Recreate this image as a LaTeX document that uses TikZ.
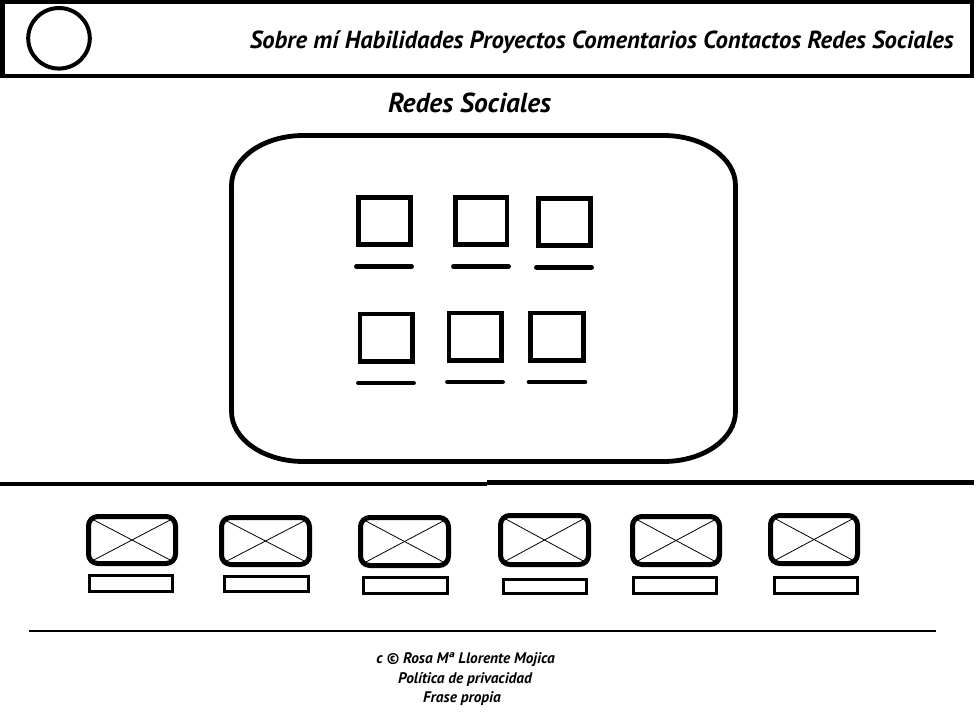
\documentclass[tikz,border=0pt]{standalone}
\usepackage{fontspec}
\setmainfont{PT Sans}
\begin{document}
\begin{tikzpicture}[x=0.75pt,y=-0.75pt,
  frame/.style={line width=3pt},
  iconbox/.style={line width=3.5pt},
  caption/.style={line width=3.5pt, line cap=round},
  thumb/.style={line width=3.75pt, rounded corners=7pt},
  cross/.style={line width=0.6pt},
  tag/.style={line width=1.9pt},
  menutext/.style={font=\fontsize{18.5}{22}\selectfont\bfseries\itshape, inner sep=0pt},
  titletext/.style={font=\fontsize{20.6}{24}\selectfont\bfseries\itshape, inner sep=0pt},
  foottext/.style={font=\fontsize{11.5}{13}\selectfont\bfseries\itshape, inner sep=0pt}]
\useasboundingbox (0,0) rectangle (976,728);

% header bar with logo and menu
\draw[frame] (2.5,2) rectangle (972,75.5);
\draw[frame] (59,38.3) ellipse [x radius=23.1pt, y radius=22.7pt];
\node[menutext, anchor=base east] (menu) at (954,48)
  {Sobre mí Habilidades Proyectos Comentarios Contactos Redes Sociales};

% section title
\node[titletext, anchor=base] (titulo) at (469.5,112) {Redes Sociales};

% panel with elliptical corners
\draw[line width=3.6pt]
  (231.5,185.5) .. controls (231.5,157.9) and (263.7,135.5) .. (303.5,135.5)
  -- (663.5,135.5) .. controls (703.3,135.5) and (735.5,157.9) .. (735.5,185.5)
  -- (735.5,411.5) .. controls (735.5,439.1) and (703.3,461.5) .. (663.5,461.5)
  -- (303.5,461.5) .. controls (263.7,461.5) and (231.5,439.1) .. (231.5,411.5)
  -- cycle;

% social icons with captions
\draw[iconbox] (358.4,197.4) rectangle (410.4,244.4);
\draw[iconbox] (455.7,197.4) rectangle (507.0,244.4);
\draw[iconbox] (538.4,198.4) rectangle (590.4,245.4);
\draw[iconbox] (360.0,314.0) rectangle (412.7,361.7);
\draw[iconbox] (449.0,313.0) rectangle (501.7,360.4);
\draw[iconbox] (530.7,313.0) rectangle (583.7,360.4);
\draw[caption] (356.4,266.3) -- (411.6,266.3);
\draw[caption] (453.4,266.3) -- (508.6,266.3);
\draw[caption] (536.4,267.3) -- (591.6,267.3);
\draw[caption] (358.4,383.0) -- (413.6,383.0);
\draw[caption] (447.4,382.0) -- (502.6,382.0);
\draw[caption] (529.0,382.0) -- (585.0,382.0);

% separator
\draw[line width=3.4pt] (0,484) -- (487,484);
\draw[line width=3.4pt] (487,482.3) -- (974,482.3);

% image placeholders with labels
\foreach \xa/\ya/\xb/\yb/\la/\lb/\lc/\ld in {
  86/514/178/566/88/574/174/593,
  219/515/312/567/223/575/310/593,
  358/515/451/568/362/576/449/595,
  498/513/591/567/502/578/588/595,
  630/514/722/567/632/576/718/595,
  768/513/860/566/773/576/859/595}{
  \draw[cross] (\xa+4,\ya+4) -- (\xb-4,\yb-4);
  \draw[cross] (\xa+4,\yb-4) -- (\xb-4,\ya+4);
  \draw[thumb] (\xa+2.5,\ya+2.5) rectangle (\xb-2.5,\yb-2.5);
  \draw[tag] (\la+1.25,\lb+1.25) rectangle (\lc-1.25,\ld-1.25);
}

% footer
\draw[line width=1.1pt] (29,631) -- (936,631);
\node[foottext, anchor=base] (autor) at (465.5,663) {c © Rosa Mª Llorente Mojica};
\node[foottext, anchor=base] (privacidad) at (465,683) {Política de privacidad};
\node[foottext, anchor=base] (frase) at (462,702) {Frase propia};
\end{tikzpicture}
\end{document}
